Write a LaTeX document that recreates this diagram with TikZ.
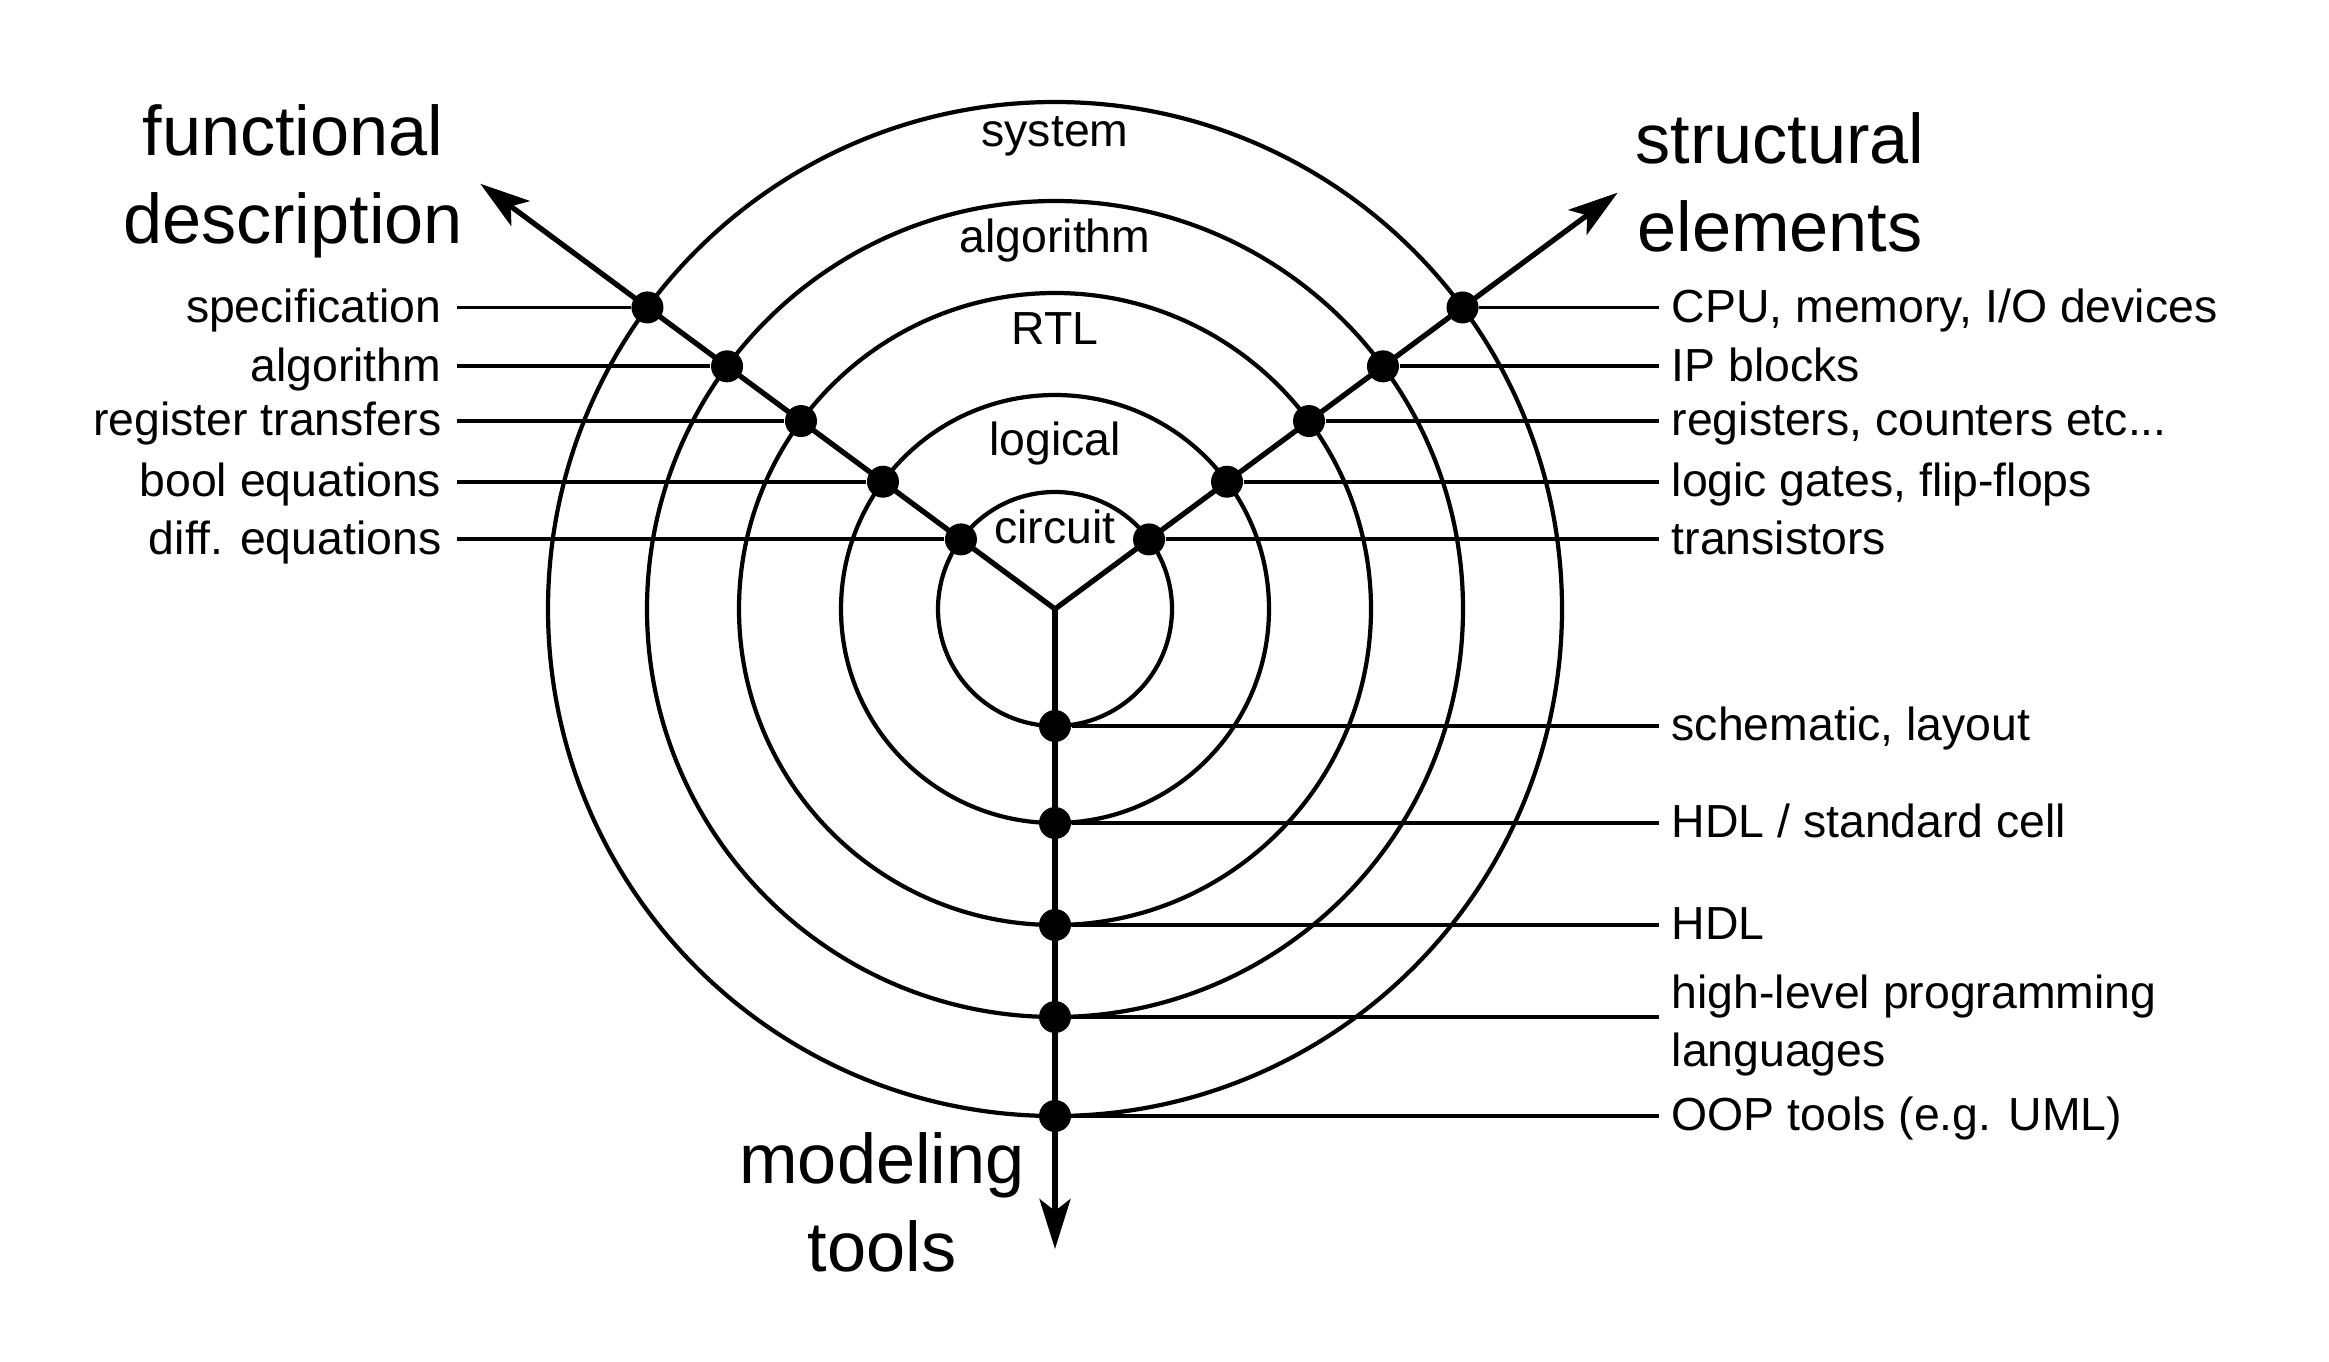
\documentclass[tikz,border=0pt]{standalone}
\usepackage{fontspec}
\setmainfont{Liberation Sans}
\usetikzlibrary{arrows.meta}
\tikzset{
  ring/.style={line width=1.2pt},
  axis/.style={line width=1.5pt,-{Stealth[length=5mm,width=3.1mm,inset=1.2mm]}},
  dot/.style={circle,fill=black,inner sep=0pt,minimum size=3.2mm},
  tick/.style={line width=1.1pt},
  lbl/.style={inner sep=0pt,font=\fontsize{13.2}{16.5}\selectfont,text height=1em,text depth=0.15em},
  lbltwo/.style={inner sep=0pt,yshift=-0.08cm,align=left,font=\fontsize{13.2}{16.5}\selectfont},
  big/.style={inner sep=0pt,align=center,font=\fontsize{20}{25}\selectfont}
}
\begin{document}
\begin{tikzpicture}
\useasboundingbox (0,0) rectangle (23.29,13.61);
\coordinate (o) at (10.55,7.52);
\coordinate (le) at (4.57,0);
\coordinate (re) at (16.59,0);
\coordinate (lx) at (4.42,0);
\coordinate (rx) at (16.71,0);
\draw[ring] (o) circle (1.17);
\draw[ring] (o) circle (2.14);
\draw[ring] (o) circle (3.16);
\draw[ring] (o) circle (4.08);
\draw[ring] (o) circle (5.07);
\coordinate (ftip) at ([shift={(143.5:7.15)}]o);
\coordinate (stip) at ([shift={(36.5:7.0)}]o);
\coordinate (mtip) at ([shift={(270:6.4)}]o);
\draw[axis] (o) -- (ftip);
\draw[axis] (o) -- (stip);
\draw[axis] (o) -- (mtip);
\node[dot] (fsys) at ([shift={(143.5:5.07)}]o) {};
\node[dot] (falg) at ([shift={(143.5:4.08)}]o) {};
\node[dot] (frtl) at ([shift={(143.5:3.16)}]o) {};
\node[dot] (flog) at ([shift={(143.5:2.14)}]o) {};
\node[dot] (fcir) at ([shift={(143.5:1.17)}]o) {};
\node[dot] (ssys) at ([shift={(36.5:5.07)}]o) {};
\node[dot] (salg) at ([shift={(36.5:4.08)}]o) {};
\node[dot] (srtl) at ([shift={(36.5:3.16)}]o) {};
\node[dot] (slog) at ([shift={(36.5:2.14)}]o) {};
\node[dot] (scir) at ([shift={(36.5:1.17)}]o) {};
\node[dot] (msys) at ([shift={(270:5.07)}]o) {};
\node[dot] (malg) at ([shift={(270:4.08)}]o) {};
\node[dot] (mrtl) at ([shift={(270:3.16)}]o) {};
\node[dot] (mlog) at ([shift={(270:2.14)}]o) {};
\node[dot] (mcir) at ([shift={(270:1.17)}]o) {};
\draw[tick] (fsys) -- (fsys -| le);
\draw[tick] (falg) -- (falg -| le);
\draw[tick] (frtl) -- (frtl -| le);
\draw[tick] (flog) -- (flog -| le);
\draw[tick] (fcir) -- (fcir -| le);
\draw[tick] (ssys) -- (ssys -| re);
\draw[tick] (salg) -- (salg -| re);
\draw[tick] (srtl) -- (srtl -| re);
\draw[tick] (slog) -- (slog -| re);
\draw[tick] (scir) -- (scir -| re);
\draw[tick] (msys) -- (msys -| re);
\draw[tick] (malg) -- (malg -| re);
\draw[tick] (mrtl) -- (mrtl -| re);
\draw[tick] (mlog) -- (mlog -| re);
\draw[tick] (mcir) -- (mcir -| re);
\node[lbl,anchor=east] (tspec) at (fsys -| lx) {specification};
\node[lbl,anchor=east] (talgo) at (falg -| lx) {algorithm};
\node[lbl,anchor=east] (treg) at (frtl -| lx) {register transfers};
\node[lbl,anchor=east] (tbool) at (flog -| lx) {bool equations};
\node[lbl,anchor=east] (tdiff) at (fcir -| lx) {diff. equations};
\node[lbl,anchor=west] (tcpu) at (ssys -| rx) {CPU, memory, I/O devices};
\node[lbl,anchor=west] (tip) at (salg -| rx) {IP blocks};
\node[lbl,anchor=west] (tregs) at (srtl -| rx) {registers, counters etc...};
\node[lbl,anchor=west] (tgates) at (slog -| rx) {logic gates, flip-flops};
\node[lbl,anchor=west] (ttrans) at (scir -| rx) {transistors};
\node[lbl,anchor=west] (tschem) at (mcir -| rx) {schematic, layout};
\node[lbl,anchor=west] (tcell) at (mlog -| rx) {HDL / standard cell};
\node[lbl,anchor=west] (thdl) at (mrtl -| rx) {HDL};
\node[lbltwo,anchor=west] (tlang) at (malg -| rx) {high-level programming\\languages};
\node[lbl,anchor=west] (toop) at (msys -| rx) {OOP tools (e.g. UML)};
\node[lbl] (nsys) at (10.55,12.29) {system};
\node[lbl] (nalg) at (10.55,11.23) {algorithm};
\node[lbl] (nrtl) at (10.55,10.31) {RTL};
\node[lbl] (nlog) at (10.55,9.20) {logical};
\node[lbl] (ncir) at (10.55,8.32) {circuit};
\node[big] (func) at (2.93,11.80) {functional\\description};
\node[big] (struct) at (17.80,11.79) {structural\\elements};
\node[big] (model) at (8.82,1.59) {modeling\\tools};
\end{tikzpicture}
\end{document}
